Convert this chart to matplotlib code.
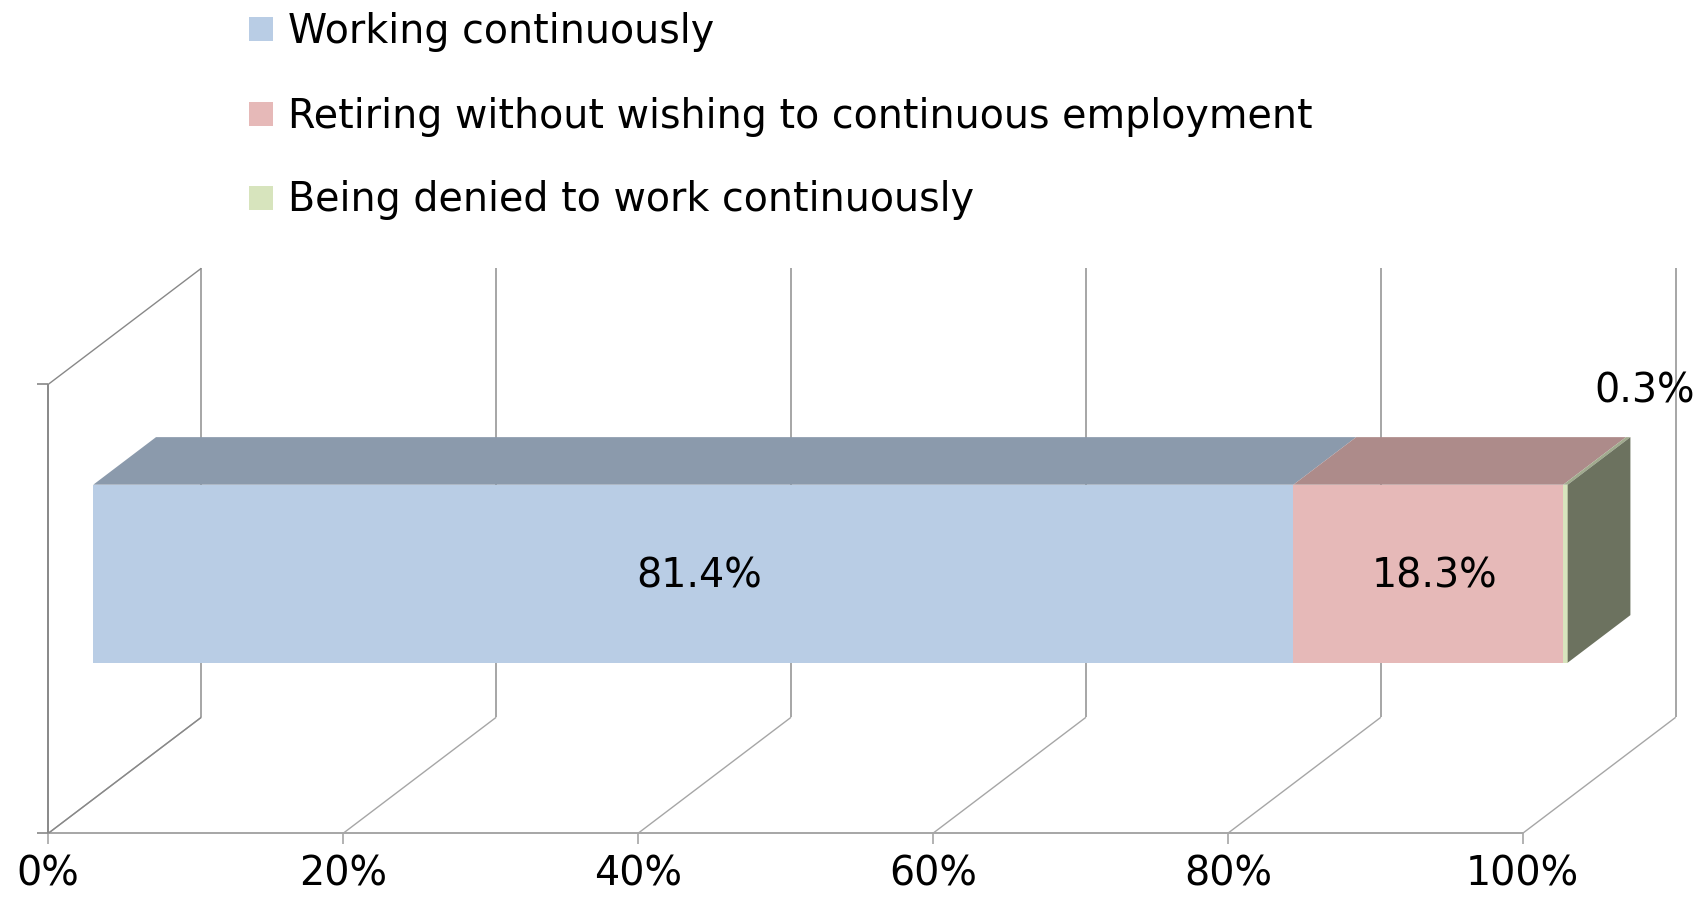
import numpy as np
import matplotlib
matplotlib.use("Agg")
import matplotlib.pyplot as plt
from matplotlib.patches import Polygon, Rectangle
from matplotlib.colors import to_rgb

categories = ["Working continuously",
              "Retiring without wishing to continuous employment",
              "Being denied to work continuously"]
values = [81.4, 18.3, 0.3]
value_labels = ["81.4%", "18.3%", "0.3%"]
colors = ["#B9CDE5", "#E6B9B8", "#D7E4BD"]
ticks = [0, 20, 40, 60, 80, 100]
tick_labels = ["0%", "20%", "40%", "60%", "80%", "100%"]

W, H = 1706, 899
PX = 14.744          # pixels per percent on the front plane
X0, FLOOR = 48.3, 833.3  # pixel position of 0% / floor (from top)

# oblique 3d layout: x in %, h in pixels above the front floor, d = depth 0..1
DX = 153 / PX
DY = 116
WALL = 449
D0, D1 = 0.294, 0.704
B0, B1 = 136.5, 314.5

FS = 28.5
GRID = "#a6a6a6"
AXC = "#888888"


def proj(x, h, d):
    return (x + d * DX, h + d * DY)


def shade(c, f):
    return tuple(np.array(to_rgb(c)) * f)


def seg(p, q, **kw):
    ax.plot([p[0], q[0]], [p[1], q[1]], solid_capstyle="butt", **kw)


fig = plt.figure(figsize=(W / 100, H / 100), dpi=100)
ax = fig.add_axes([0, 0, 1, 1])
ax.set_xlim(-X0 / PX, (W - X0) / PX)
ax.set_ylim(-(H - FLOOR), FLOOR)
ax.axis("off")

# walls and grid
for t, tl in zip(ticks, tick_labels):
    seg(proj(t, 0, 1), proj(t, WALL, 1), color=GRID, lw=1.4, zorder=1)
    seg(proj(t, 0, 0), proj(t, 0, 1), color=GRID, lw=1.0, zorder=1)
    seg(proj(t, 0, 0), proj(t, -11, 0), color=GRID, lw=1.2, zorder=1)
    ax.text(t, -(886 - FLOOR), tl, ha="center", va="baseline",
            fontsize=FS, color="black")
seg(proj(0, 0, 0), proj(0, WALL, 0), color=AXC, lw=1.4, zorder=2)
seg(proj(0, WALL, 0), proj(0, WALL, 1), color=AXC, lw=1.0, zorder=2)
seg(proj(0, 0, 0), proj(0, 0, 1), color=AXC, lw=1.0, zorder=2)
seg(proj(0, 0, 0), proj(100, 0, 0), color=GRID, lw=1.4, zorder=1)
for h in [0, WALL]:
    seg(proj(-11 / PX, h, 0), proj(0, h, 0), color=AXC, lw=1.2, zorder=2)

# stacked 3d bar
left = 0
for i, (v, c, lab) in enumerate(zip(values, colors, value_labels)):
    x0, x1 = left, left + v
    front = [proj(x0, B0, D0), proj(x1, B0, D0), proj(x1, B1, D0), proj(x0, B1, D0)]
    top = [proj(x0, B1, D0), proj(x1, B1, D0), proj(x1, B1, D1), proj(x0, B1, D1)]
    side = [proj(x1, B0, D0), proj(x1, B0, D1), proj(x1, B1, D1), proj(x1, B1, D0)]
    ax.add_patch(Polygon(front, closed=True, fc=c, ec="none", zorder=5))
    ax.add_patch(Polygon(top, closed=True, fc=shade(c, 0.75), ec="none", zorder=5))
    if i == len(values) - 1:
        ax.add_patch(Polygon(side, closed=True, fc=shade(c, 0.5), ec="none", zorder=5))
        bx, by = proj(x1, B1, D1)
        ax.text(bx + 1.0, by + 46, lab, ha="center", va="center",
                fontsize=FS, zorder=6)
    else:
        cx, cy = proj((x0 + x1) / 2, (B0 + B1) / 2, D0)
        ax.text(cx + 0.4, cy - 14, lab, ha="center", va="baseline",
                fontsize=FS, zorder=6)
    left = x1

# legend
rows = [29.4, 113.7, 197.5]
for name, c, ry in zip(categories, colors, rows):
    fig.patches.append(Rectangle((249 / W, 1 - (ry + 12) / H), 24 / W, 24 / H,
                                 transform=fig.transFigure, fc=c, ec="none"))
    fig.text(288 / W, 1 - (ry + 14) / H, name, ha="left", va="baseline",
             fontsize=FS)

fig.savefig("out.png", dpi=100)
